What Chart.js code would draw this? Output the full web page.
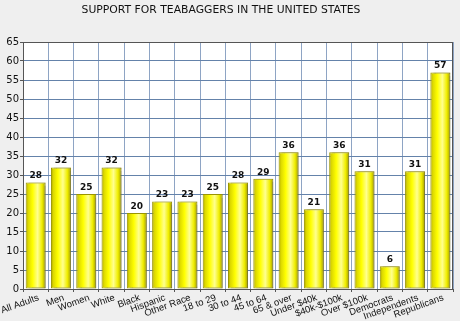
<!DOCTYPE html>
<html><head><meta charset="utf-8">
<script src="https://cdn.jsdelivr.net/npm/chart.js@4/dist/chart.umd.min.js"></script>
<style>html,body{margin:0;padding:0;background:#efefef}#wrap{width:460px;height:321px}</style>
</head><body><div id="wrap"><canvas id="c" width="460" height="321"></canvas></div>
<script>
const titleText = "SUPPORT FOR TEABAGGERS IN THE UNITED STATES";
const categories = ["All Adults","Men","Women","White","Black","Hispanic","Other Race","18 to 29","30 to 44","45 to 64","65 & over","Under $40k","$40k-$100k","Over $100k","Democrats","Independents","Republicans"];
const support = [28,32,25,32,20,23,23,25,28,29,36,21,36,31,6,31,57];
const yMin = 0, yMax = 65, yStep = 5;

const FONT = "'DejaVu Sans', sans-serif";
const XFONT = "'Liberation Sans', Arial, sans-serif";

const bgPlugin = {
  id: 'bg',
  beforeDraw(chart) {
    const c = chart.ctx, a = chart.chartArea;
    c.save();
    c.fillStyle = '#efefef';
    c.fillRect(0, 0, chart.width, chart.height);
    c.fillStyle = '#ffffff';
    c.fillRect(a.left, a.top, a.right - a.left, a.bottom - a.top);
    c.fillStyle = '#111';
    c.font = "10.8px " + FONT;
    c.textAlign = 'center';
    c.textBaseline = 'middle';
    c.fillText(titleText, 221, 10);
    c.restore();
  }
};
const shadowPlugin = {
  id: 'shadow',
  beforeDatasetsDraw(chart) {
    const c = chart.ctx;
    c.save();
    c.shadowColor = 'rgba(90,90,90,0.45)';
    c.shadowOffsetX = 3;
    c.shadowOffsetY = 0;
    c.shadowBlur = 1;
  },
  afterDatasetsDraw(chart) {
    const c = chart.ctx;
    c.restore();
    const a = chart.chartArea;
    c.save();
    c.strokeStyle = '#555';
    c.lineWidth = 1;
    c.strokeRect(Math.round(a.left) + 0.5, Math.round(a.top) + 0.5, Math.round(a.right - a.left) - 1, Math.round(a.bottom - a.top));
    const meta = chart.getDatasetMeta(0);
    c.fillStyle = '#111';
    c.font = "bold 9px " + FONT;
    c.textAlign = 'center';
    c.textBaseline = 'bottom';
    meta.data.forEach((bar, i) => {
      c.fillText(String(chart.data.datasets[0].data[i]), bar.x, bar.y - 2);
    });
    c.restore();
  }
};

function barGradient(ctx) {
  const chart = ctx.chart;
  const xs = chart.scales && chart.scales.x;
  if (!xs || ctx.dataIndex === undefined || !isFinite(xs.getPixelForValue(ctx.dataIndex))) return '#ffff00';
  const cx = xs.getPixelForValue(ctx.dataIndex);
  const w = (xs.width / categories.length) * 0.79;
  const g = chart.ctx.createLinearGradient(cx - w / 2, 0, cx + w / 2, 0);
  g.addColorStop(0, '#a8a200');
  g.addColorStop(0.12, '#dcd800');
  g.addColorStop(0.35, '#ffff00');
  g.addColorStop(0.6, '#ffff90');
  g.addColorStop(0.82, '#f0ee00');
  g.addColorStop(1, '#a09a00');
  return g;
}

new Chart(document.getElementById('c'), {
  type: 'bar',
  data: {
    labels: categories,
    datasets: [{
      data: support,
      backgroundColor: barGradient,
      borderColor: '#9c9600',
      borderWidth: 1,
      borderSkipped: false,
      categoryPercentage: 1,
      barPercentage: 0.79
    }]
  },
  options: {
    responsive: false,
    animation: false,
    devicePixelRatio: 1,
    layout: { padding: { top: 42, right: 7, left: 0, bottom: 0 } },
    plugins: { legend: { display: false }, title: { display: false }, tooltip: { enabled: false } },
    scales: {
      x: {
        grid: { color: '#8ea4c4', lineWidth: 1, offset: true, drawTicks: true, tickLength: 3, tickColor: '#555' },
        border: { color: '#555' },
        ticks: { color: '#111', font: { family: XFONT, size: 9.5 }, minRotation: 20, maxRotation: 20, autoSkip: false, padding: 0, labelOffset: 3 },
        afterFit(s) { s.height = 32; s.paddingLeft = 0; s.paddingRight = 0; }
      },
      y: {
        min: yMin, max: yMax,
        grid: { color: '#6482aa', lineWidth: 1, tickLength: 3, tickColor: '#555' },
        border: { color: '#555' },
        ticks: { stepSize: yStep, color: '#111', font: { family: FONT, size: 10 }, padding: 1 },
        afterFit(s) { s.width = 23; s.paddingTop = 0; s.paddingBottom = 0; }
      }
    }
  },
  plugins: [bgPlugin, shadowPlugin]
});
</script>
</body></html>
